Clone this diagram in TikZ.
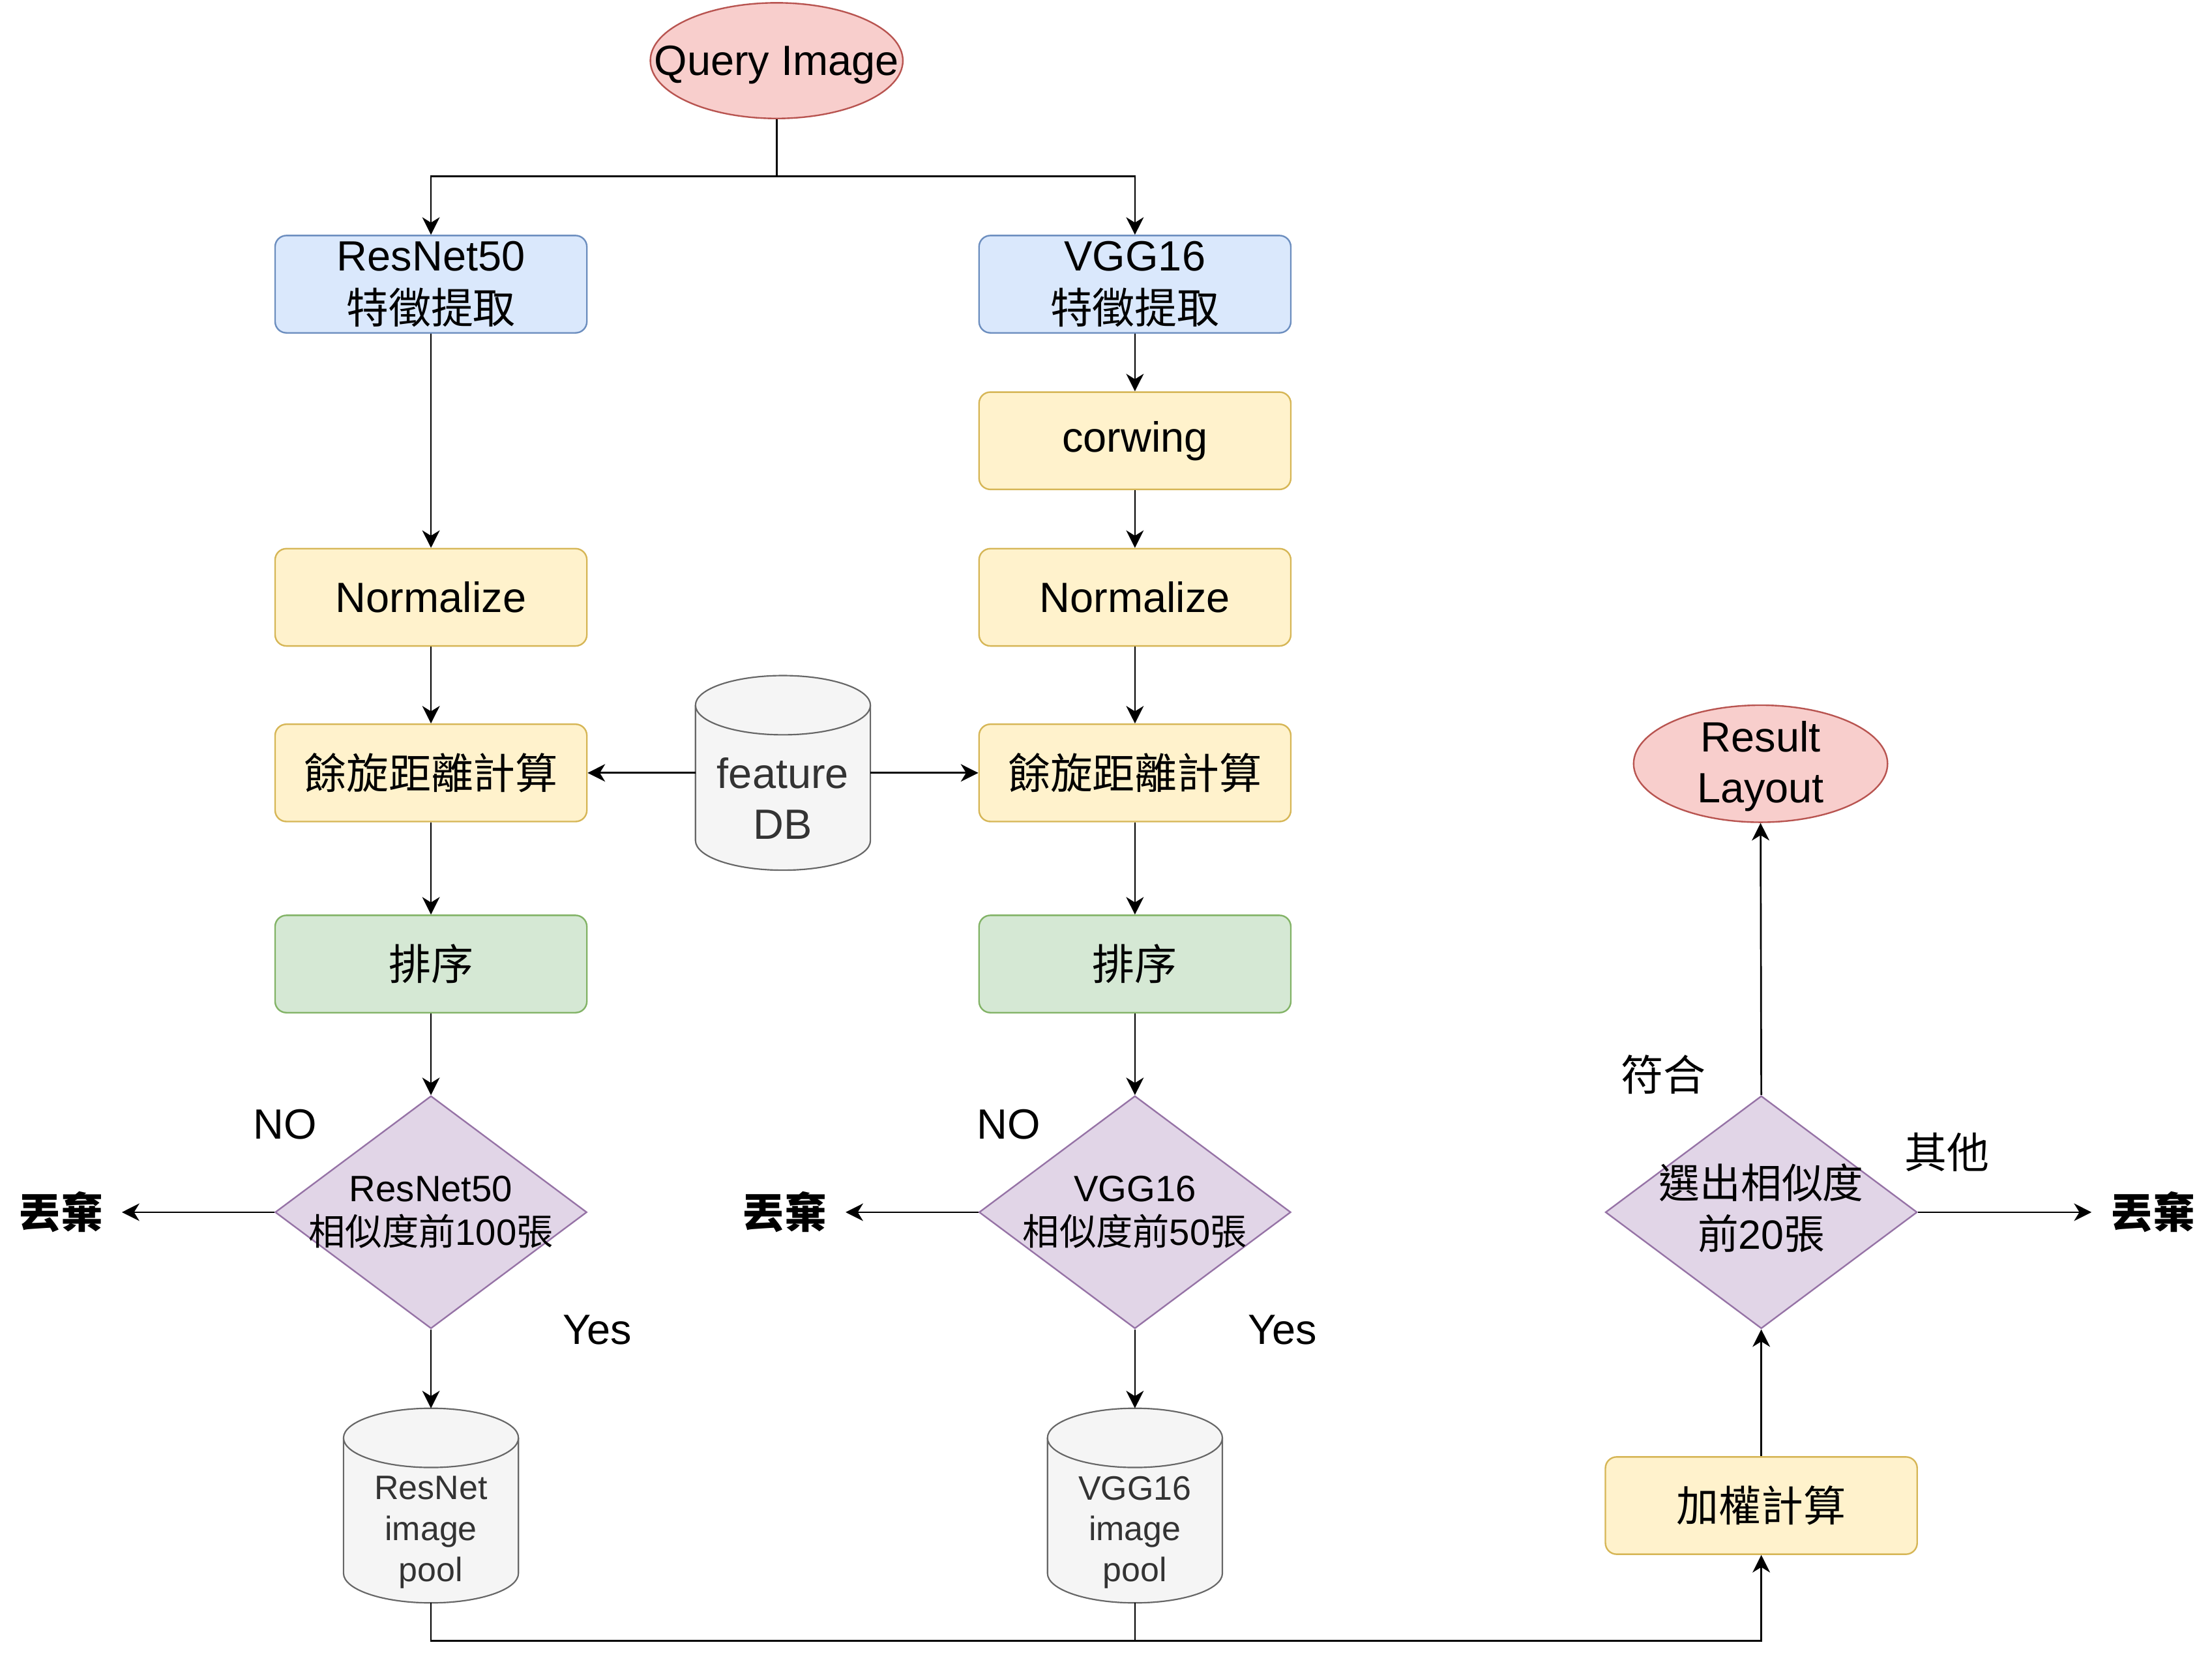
\documentclass[tikz,border=0pt]{standalone}
\usepackage{fontspec}
\setmainfont{Liberation Sans}
\newfontfamily\cjk{Noto Sans CJK TC}
\usetikzlibrary{shapes.geometric,arrows.meta,backgrounds}
\definecolor{redF}{HTML}{F8CECC}\definecolor{redD}{HTML}{B85450}
\definecolor{bluF}{HTML}{DAE8FC}\definecolor{bluD}{HTML}{6C8EBF}
\definecolor{yelF}{HTML}{FFF2CC}\definecolor{yelD}{HTML}{D6B656}
\definecolor{grnF}{HTML}{D5E8D4}\definecolor{grnD}{HTML}{82B366}
\definecolor{purF}{HTML}{E1D5E7}\definecolor{purD}{HTML}{9673A6}
\definecolor{gryF}{HTML}{F5F5F5}\definecolor{gryD}{HTML}{666666}
\definecolor{gryT}{HTML}{333333}
\newcommand\drawcyl[1]{%
  \draw[cylst] ([yshift=-10.5pt]#1.north west) -- ([yshift=10.5pt]#1.south west)
    arc[start angle=180,end angle=360,x radius=31pt,y radius=10.5pt]
    -- ([yshift=-10.5pt]#1.north east)
    arc[start angle=0,end angle=180,x radius=31pt,y radius=10.5pt] -- cycle;
  \draw[cylst,fill=none] ([yshift=-10.5pt]#1.north west)
    arc[start angle=180,end angle=360,x radius=31pt,y radius=10.5pt];}
\begin{document}
\begin{tikzpicture}[x=0.5pt,y=-0.5pt,
  box/.style={rectangle, rounded corners=4pt, minimum width=110.5pt, minimum height=34.5pt,
    inner sep=0pt, line width=0.55pt, align=center, font=\fontsize{15}{18.5}\selectfont},
  blubox/.style={box, draw=bluD, fill=bluF},
  yelbox/.style={box, draw=yelD, fill=yelF},
  grnbox/.style={box, draw=grnD, fill=grnF},
  dia/.style={diamond, minimum width=110.5pt, minimum height=82.5pt, inner sep=0pt,
    draw=purD, fill=purF, line width=0.55pt},
  ell/.style={ellipse, draw=redD, fill=redF, line width=0.55pt, inner sep=0pt},
  txt/.style={font=\fontsize{15}{18}\selectfont, align=center, inner sep=0pt},
  dtxt/.style={font=\fontsize{13}{15.5}\selectfont, align=center, inner sep=0pt},
  ptxt/.style={font=\fontsize{12}{14.5}\selectfont, align=center, inner sep=0pt, text=gryT},
  cylnode/.style={rectangle, minimum width=62pt, minimum height=69pt, inner sep=0pt, outer sep=0pt},
  cylst/.style={draw=gryD, fill=gryF, line width=0.5pt},
  conn/.style={line width=0.62pt},
  arr/.style={conn, -{Stealth[length=6.2pt,width=6.2pt,inset=1.9pt]}},
  drop/.style={font=\fontsize{15}{18}\selectfont\cjk\bfseries, inner xsep=6.5pt, inner ysep=0pt},
  lbl/.style={font=\fontsize{15}{18}\selectfont, inner sep=0pt}
]
\useasboundingbox (0,0) rectangle (1568,1178.4);

% nodes
\node[ell, minimum width=89.5pt, minimum height=41pt, label={[txt,yshift=-1.5pt]center:Query Image}] (q) at (550.5,43) {};
\node[blubox] (res) at (305.5,201.5) {ResNet50\\{\cjk 特徵提取}};
\node[blubox] (vgg) at (804.5,201.5) {VGG16\\{\cjk 特徵提取}};
\node[yelbox] (corw) at (804.5,312.5) {corwing};
\node[yelbox] (normL) at (305.5,423.5) {Normalize};
\node[yelbox] (normR) at (804.5,423.5) {Normalize};
\node[yelbox] (cosL) at (305.5,548) {\cjk 餘旋距離計算};
\node[yelbox] (cosR) at (804.5,548) {\cjk 餘旋距離計算};
\node[cylnode, label={[txt,text=gryT,yshift=-9pt]center:feature\\DB}] (db) at (555,548) {};
\node[grnbox] (sortL) at (305.5,683.5) {\cjk 排序};
\node[grnbox] (sortR) at (804.5,683.5) {\cjk 排序};
\node[dia, label={[dtxt]center:ResNet50\\{\cjk 相似度前}100{\cjk 張}}] (diaL) at (305.5,859.5) {};
\node[dia, label={[dtxt]center:VGG16\\{\cjk 相似度前}50{\cjk 張}}] (diaR) at (804.5,859.5) {};
\node[drop] (dropL) at (43,859.5) {丟棄};
\node[drop] (dropM) at (556,859.5) {丟棄};
\node[drop] (dropR) at (1526,859.5) {丟棄};
\node[cylnode, label={[ptxt,yshift=-9.5pt]center:ResNet\\image\\pool}] (rpool) at (305.5,1067.5) {};
\node[cylnode, label={[ptxt,yshift=-9.5pt]center:VGG16\\image\\pool}] (vpool) at (804.5,1067.5) {};
\node[yelbox] (wsum) at (1248.5,1067.5) {\cjk 加權計算};
\node[dia, label={[font=\fontsize{14.5}{18}\selectfont, align=center, inner sep=0pt, yshift=1.5pt]center:{\cjk 選出相似度}\\{\cjk 前}20{\cjk 張}}] (diaF) at (1248.5,859.5) {};
\node[ell, minimum width=90pt, minimum height=41.5pt, label={[txt,yshift=-1pt]center:Result\\Layout}] (rl) at (1248,541.5) {};

% edge labels
\node[lbl] (noL) at (202,797) {NO};
\node[lbl] (noR) at (715,797) {NO};
\node[lbl] (yesL) at (423.5,943) {Yes};
\node[lbl] (yesR) at (909,943) {Yes};
\node[lbl] (fit) at (1179,762) {\cjk 符合};
\node[lbl] (other) at (1380,817) {\cjk 其他};

% cylinders behind
\begin{scope}[on background layer]
\drawcyl{db}
\drawcyl{rpool}
\drawcyl{vpool}
\end{scope}

% connectors
\coordinate (split) at (q.south |- 0,125);
\draw[conn] (q.south) -- (split);
\draw[arr] (split) -| (res.north);
\draw[arr] (split) -| (vgg.north);
\draw[arr] (res) -- (normL);
\draw[arr] (vgg) -- (corw);
\draw[arr] (corw) -- (normR);
\draw[arr] (normL) -- (cosL);
\draw[arr] (normR) -- (cosR);
\draw[arr] (db.west) -- (cosL.east);
\draw[arr] (db.east) -- (cosR.west);
\draw[arr] (cosL) -- (sortL);
\draw[arr] (cosR) -- (sortR);
\draw[arr] (sortL) -- (diaL.north);
\draw[arr] (sortR) -- (diaR.north);
\draw[arr] (diaL.west) -- (dropL.east);
\draw[arr] (diaR.west) -- (dropM.east);
\draw[arr] (diaL.south) -- (rpool.north);
\draw[arr] (diaR.south) -- (vpool.north);
\draw[arr] (rpool.south) -- ++(0,27) -| (wsum.south);
\draw[conn] (vpool.south) -- ++(0,27);
\draw[arr] (wsum.north) -- (diaF.south);
\draw[arr] (diaF.north) -- (rl.south);
\draw[arr] (diaF.east) -- (dropR.west);
\end{tikzpicture}
\end{document}
